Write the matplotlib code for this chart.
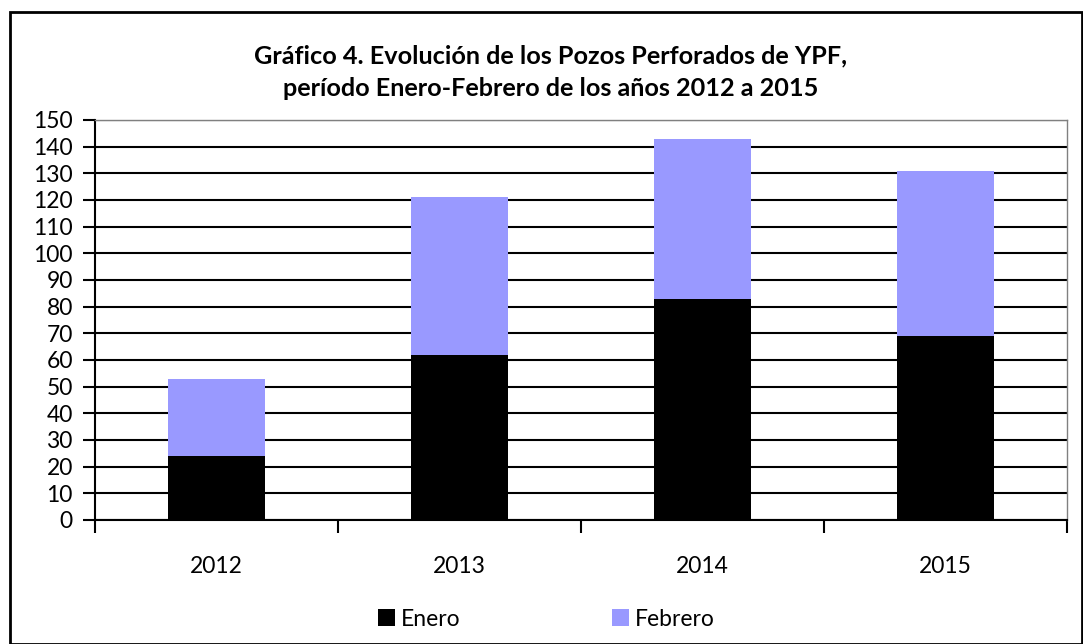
import matplotlib.pyplot as plt
from matplotlib.patches import Rectangle

years = ['2012', '2013', '2014', '2015']
enero = [24, 62, 83, 69]
febrero = [29, 59, 60, 62]

plt.rcParams['font.family'] = ['Lato', 'DejaVu Sans']

W, H = 1083, 644
fig = plt.figure(figsize=(W / 100, H / 100), dpi=100)
fig.patch.set_facecolor('white')

# outer chart border
fig.patches.append(Rectangle((10 / W, 0.5 / H), (W - 11) / W, (H - 12 - 0.5) / H,
                             transform=fig.transFigure, fill=False,
                             edgecolor='black', linewidth=2))

ax = fig.add_axes([95 / W, (H - 520) / H, 972 / W, 400 / H])

x = range(len(years))
ax.bar(x, enero, 0.4, color='black', label='Enero', zorder=3)
ax.bar(x, febrero, 0.4, bottom=enero, color='#9999ff', label='Febrero', zorder=3)

ax.set_xlim(-0.5, len(years) - 0.5)
ax.set_ylim(0, 150)
ax.set_yticks(range(0, 151, 10))
ax.set_xticks(list(x))
ax.set_xticklabels(years)
ax.set_xticks([i - 0.5 for i in range(len(years) + 1)], minor=True)

ax.grid(axis='y', color='black', linewidth=1.5, zorder=0)
ax.set_axisbelow(True)

for side in ['top', 'right']:
    ax.spines[side].set_color('#808080')
    ax.spines[side].set_linewidth(1)
for side in ['left', 'bottom']:
    ax.spines[side].set_color('black')
    ax.spines[side].set_linewidth(1.5)

ax.tick_params(axis='y', length=9, width=1.5, labelsize=16.5, pad=7)
ax.tick_params(axis='x', which='major', length=0, labelsize=16.5, pad=26)
ax.tick_params(axis='x', which='minor', length=9, width=1.5)

fig.text(551 / W, 1 - 56 / H, 'Gráfico 4. Evolución de los Pozos Perforados de YPF,',
         ha='center', va='center', fontsize=18.2, fontweight='bold')
fig.text(551 / W, 1 - 88 / H, 'período Enero-Febrero de los años 2012 a 2015',
         ha='center', va='center', fontsize=18.2, fontweight='bold')

fig.legend(loc='center', bbox_to_anchor=(546 / W, 1 - 619 / H), ncol=2,
           frameon=False, fontsize=16.5, handlelength=0.75, handleheight=0.75,
           handletextpad=0.25, columnspacing=6.6, borderaxespad=0)

fig.savefig('out.png', dpi=100)
